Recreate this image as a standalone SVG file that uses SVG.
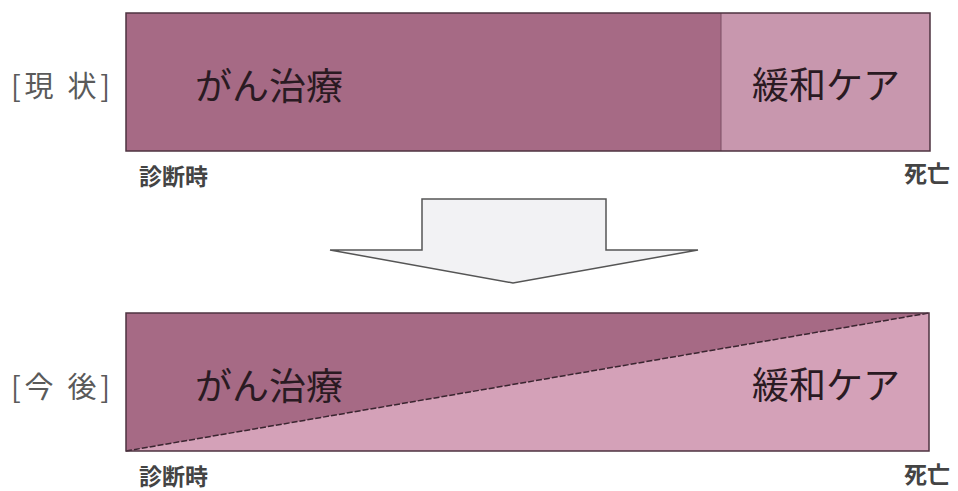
<svg xmlns="http://www.w3.org/2000/svg" width="958" height="491" viewBox="0 0 958 491">
<style>
.lbl{font-family:"Noto Sans CJK JP","Noto Sans",sans-serif;font-size:29px;fill:#5a5a5a;dominant-baseline:central}
.big{font-family:"Noto Sans CJK JP","Noto Sans",sans-serif;font-size:37px;fill:#2a1a22;dominant-baseline:central}
.sm{font-family:"Noto Sans CJK JP","Noto Sans",sans-serif;font-size:23px;font-weight:bold;fill:#444;dominant-baseline:central}
.dark{fill:#A66A85}
.box{fill:none;stroke:#4e3340;stroke-width:1.5}
</style>
<rect width="958" height="491" fill="#fff"/>
<g id="current">
<rect class="dark" x="126" y="13" width="595" height="138"/>
<rect x="721" y="13" width="209" height="138" fill="#C897AE"/>
<line x1="721" y1="13" x2="721" y2="151" stroke="#7a4e62" stroke-width="1"/>
<rect class="box" x="126" y="13" width="804" height="138"/>
<text class="lbl" x="11" y="84" textLength="99" lengthAdjust="spacing">[現 状]</text>
<text class="big" x="195" y="84">がん治療</text>
<text class="big" x="752" y="83">緩和ケア</text>
<text class="sm" x="139" y="175">診断時</text>
<text class="sm" x="904" y="172">死亡</text>
</g>
<g id="arrow">
<polygon points="422,199 606,199 606,250 698,250 513,283 330,250 422,250" fill="#f2f2f4" stroke="#555" stroke-width="1.5"/>
</g>
<g id="future">
<rect x="126" y="313" width="803" height="138" fill="#D4A1B8"/>
<polygon class="dark" points="126,313 929,313 126,451"/>
<line x1="126" y1="451" x2="929" y2="313" stroke="#3a2530" stroke-width="1.5" stroke-dasharray="6,2"/>
<rect class="box" x="126" y="313" width="803" height="138"/>
<text class="lbl" x="11" y="385" textLength="99" lengthAdjust="spacing">[今 後]</text>
<text class="big" x="195" y="384">がん治療</text>
<text class="big" x="752" y="383">緩和ケア</text>
<text class="sm" x="139" y="475">診断時</text>
<text class="sm" x="904" y="473">死亡</text>
</g>
</svg>
